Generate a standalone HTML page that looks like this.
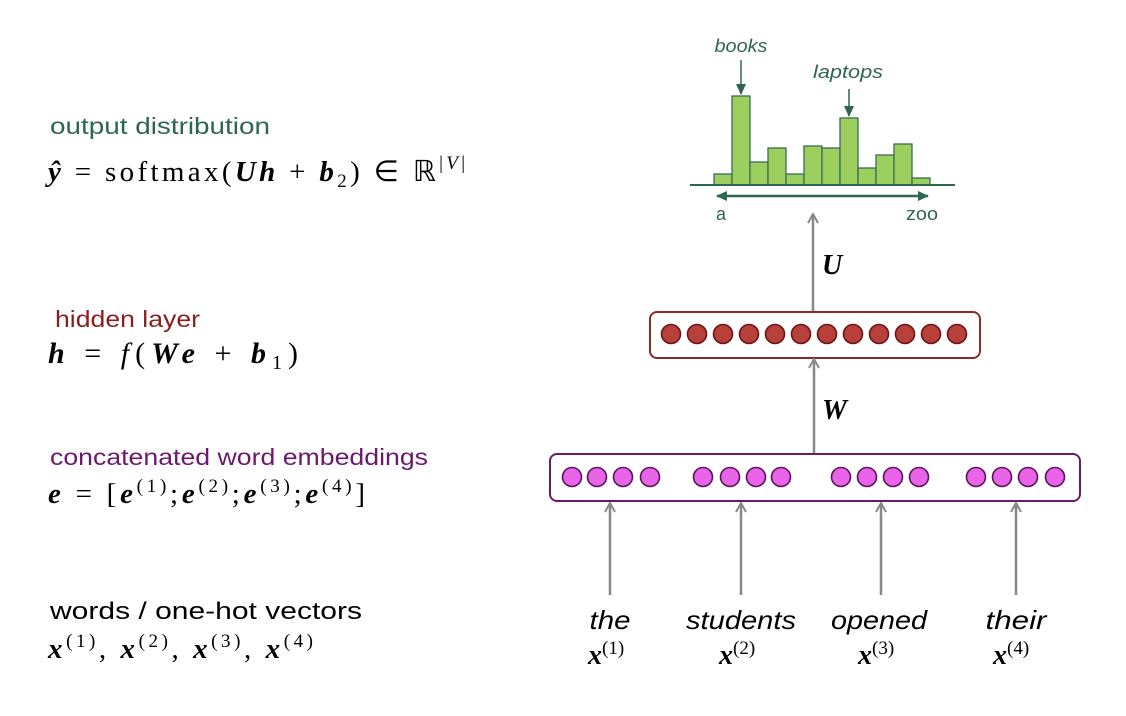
<!DOCTYPE html>
<html><head><meta charset="utf-8"><style>
html,body{margin:0;padding:0;background:#fff;}
svg{display:block;}
.s{font-family:"Liberation Sans",sans-serif;}
.m{font-family:"Liberation Serif",serif;}
</style></head><body>
<svg width="1126" height="716" viewBox="0 0 1126 716" xmlns="http://www.w3.org/2000/svg">
<defs>
<marker id="ag" markerWidth="12" markerHeight="12" refX="11" refY="6" orient="auto" markerUnits="userSpaceOnUse" viewBox="0 0 12 12">
<path d="M2,1 L11,6 L2,11" fill="none" stroke="#888" stroke-width="2"/></marker>
<marker id="gd" markerWidth="12" markerHeight="12" refX="10" refY="6" orient="auto-start-reverse" markerUnits="userSpaceOnUse" viewBox="0 0 12 12">
<path d="M0,1 L11,6 L0,11 Z" fill="#2f6652"/></marker>
</defs>

<!-- left labels -->
<text x="50" y="134" class="s" font-size="23" fill="#2f6652" textLength="220" lengthAdjust="spacingAndGlyphs">output distribution</text>
<text x="48" y="181" class="m" font-size="29" fill="#000" textLength="417" lengthAdjust="spacing"><tspan font-weight="bold" font-style="italic">ŷ</tspan> = softmax(<tspan font-weight="bold" font-style="italic">Uh</tspan> + <tspan font-weight="bold" font-style="italic">b</tspan><tspan font-size="19" dy="6">2</tspan><tspan dy="-6">) ∈ ℝ</tspan><tspan font-size="19" dy="-12">|</tspan><tspan font-size="19" font-style="italic">V</tspan><tspan font-size="19">|</tspan></text>

<text x="55" y="327" class="s" font-size="23" fill="#8b1f1f" textLength="145" lengthAdjust="spacingAndGlyphs">hidden layer</text>
<text x="48" y="363" class="m" font-size="30" fill="#000" textLength="250" lengthAdjust="spacing"><tspan font-weight="bold" font-style="italic">h</tspan> = <tspan font-style="italic">f</tspan>(<tspan font-weight="bold" font-style="italic">We</tspan> + <tspan font-weight="bold" font-style="italic">b</tspan><tspan font-size="20" dy="6">1</tspan><tspan dy="-6">)</tspan></text>

<text x="50" y="465" class="s" font-size="23" fill="#6b1a6b" textLength="378" lengthAdjust="spacingAndGlyphs">concatenated word embeddings</text>
<text x="48" y="503" class="m" font-size="29" fill="#000" textLength="317" lengthAdjust="spacing"><tspan font-weight="bold" font-style="italic">e</tspan> = [<tspan font-weight="bold" font-style="italic">e</tspan><tspan font-size="19" dy="-11">(1)</tspan><tspan dy="11">;</tspan><tspan font-weight="bold" font-style="italic">e</tspan><tspan font-size="19" dy="-11">(2)</tspan><tspan dy="11">;</tspan><tspan font-weight="bold" font-style="italic">e</tspan><tspan font-size="19" dy="-11">(3)</tspan><tspan dy="11">;</tspan><tspan font-weight="bold" font-style="italic">e</tspan><tspan font-size="19" dy="-11">(4)</tspan><tspan dy="11">]</tspan></text>

<text x="50" y="619" class="s" font-size="24" fill="#000" textLength="312" lengthAdjust="spacingAndGlyphs">words / one-hot vectors</text>
<text x="48" y="658" class="m" font-size="29" fill="#000" textLength="265" lengthAdjust="spacing"><tspan font-weight="bold" font-style="italic">x</tspan><tspan font-size="19" dy="-11">(1)</tspan><tspan dy="11">, </tspan><tspan font-weight="bold" font-style="italic">x</tspan><tspan font-size="19" dy="-11">(2)</tspan><tspan dy="11">, </tspan><tspan font-weight="bold" font-style="italic">x</tspan><tspan font-size="19" dy="-11">(3)</tspan><tspan dy="11">, </tspan><tspan font-weight="bold" font-style="italic">x</tspan><tspan font-size="19" dy="-11">(4)</tspan></text>

<!-- histogram -->
<g fill="#9dcf5f" stroke="#3a6b55" stroke-width="1.3">
<rect x="714" y="174" width="18" height="11"/>
<rect x="732" y="96" width="18" height="89"/>
<rect x="750" y="162" width="18" height="23"/>
<rect x="768" y="148" width="18" height="37"/>
<rect x="786" y="174" width="18" height="11"/>
<rect x="804" y="146" width="18" height="39"/>
<rect x="822" y="148" width="18" height="37"/>
<rect x="840" y="118" width="18" height="67"/>
<rect x="858" y="168" width="18" height="17"/>
<rect x="876" y="155" width="18" height="30"/>
<rect x="894" y="144" width="18" height="41"/>
<rect x="912" y="178" width="18" height="7"/>
</g>
<line x1="690" y1="185" x2="955" y2="185" stroke="#2f6652" stroke-width="2"/>
<line x1="717" y1="196" x2="928" y2="196" stroke="#2f6652" stroke-width="2.5" marker-start="url(#gd)" marker-end="url(#gd)"/>
<text x="721" y="220" class="s" font-size="18" fill="#2f6652" text-anchor="middle">a</text>
<text x="922" y="220" class="s" font-size="18" fill="#2f6652" text-anchor="middle" textLength="32" lengthAdjust="spacingAndGlyphs">zoo</text>
<text x="741" y="52" class="s" font-size="18" font-style="italic" fill="#2f6652" text-anchor="middle" textLength="53" lengthAdjust="spacingAndGlyphs">books</text>
<line x1="741" y1="60" x2="741" y2="94" stroke="#2f6652" stroke-width="1.5" marker-end="url(#gd)"/>
<text x="848" y="78" class="s" font-size="18" font-style="italic" fill="#2f6652" text-anchor="middle" textLength="70" lengthAdjust="spacingAndGlyphs">laptops</text>
<line x1="849" y1="89" x2="849" y2="116" stroke="#2f6652" stroke-width="1.5" marker-end="url(#gd)"/>

<!-- U arrow -->
<line x1="813" y1="312" x2="813" y2="214" stroke="#888" stroke-width="2.5" marker-end="url(#ag)"/>
<text x="822" y="274" class="m" font-size="28" font-weight="bold" font-style="italic">U</text>

<!-- hidden box -->
<rect x="650" y="312" width="330" height="46" rx="7" fill="#fff" stroke="#8b2a2a" stroke-width="2"/>
<g fill="#b8403a" stroke="#6a1515" stroke-width="1.6">
<circle cx="671" cy="334" r="9.5"/><circle cx="697" cy="334" r="9.5"/><circle cx="723" cy="334" r="9.5"/><circle cx="749" cy="334" r="9.5"/><circle cx="775" cy="334" r="9.5"/><circle cx="801" cy="334" r="9.5"/><circle cx="827" cy="334" r="9.5"/><circle cx="853" cy="334" r="9.5"/><circle cx="879" cy="334" r="9.5"/><circle cx="905" cy="334" r="9.5"/><circle cx="931" cy="334" r="9.5"/><circle cx="957" cy="334" r="9.5"/>
</g>

<!-- W arrow -->
<line x1="814" y1="454" x2="814" y2="359" stroke="#888" stroke-width="2.5" marker-end="url(#ag)"/>
<text x="822" y="419" class="m" font-size="28" font-weight="bold" font-style="italic">W</text>

<!-- embedding box -->
<rect x="550" y="454" width="530" height="47" rx="7" fill="#fff" stroke="#6b1a6b" stroke-width="2"/>
<g fill="#e964e8" stroke="#5a1258" stroke-width="1.6">
<circle cx="572" cy="477" r="9.5"/><circle cx="597" cy="477" r="9.5"/><circle cx="623" cy="477" r="9.5"/><circle cx="650" cy="477" r="9.5"/>
<circle cx="703" cy="477" r="9.5"/><circle cx="730" cy="477" r="9.5"/><circle cx="756" cy="477" r="9.5"/><circle cx="781" cy="477" r="9.5"/>
<circle cx="841" cy="477" r="9.5"/><circle cx="867" cy="477" r="9.5"/><circle cx="893" cy="477" r="9.5"/><circle cx="919" cy="477" r="9.5"/>
<circle cx="976" cy="477" r="9.5"/><circle cx="1002" cy="477" r="9.5"/><circle cx="1028" cy="477" r="9.5"/><circle cx="1055" cy="477" r="9.5"/>
</g>

<!-- word arrows -->
<g stroke="#888" stroke-width="2.5">
<line x1="610" y1="595" x2="610" y2="503" marker-end="url(#ag)"/>
<line x1="741" y1="595" x2="741" y2="503" marker-end="url(#ag)"/>
<line x1="881" y1="595" x2="881" y2="503" marker-end="url(#ag)"/>
<line x1="1016" y1="595" x2="1016" y2="503" marker-end="url(#ag)"/>
</g>
<g class="s" font-size="26" font-style="italic" text-anchor="middle" fill="#000">
<text x="610" y="629" textLength="41" lengthAdjust="spacingAndGlyphs">the</text>
<text x="741" y="629" textLength="110" lengthAdjust="spacingAndGlyphs">students</text>
<text x="879" y="629" textLength="96" lengthAdjust="spacingAndGlyphs">opened</text>
<text x="1016" y="629" textLength="61" lengthAdjust="spacingAndGlyphs">their</text>
</g>
<g class="m" font-size="28" fill="#000">
<text x="588" y="664"><tspan font-weight="bold" font-style="italic">x</tspan><tspan font-size="19" dy="-10">(1)</tspan></text>
<text x="719" y="664"><tspan font-weight="bold" font-style="italic">x</tspan><tspan font-size="19" dy="-10">(2)</tspan></text>
<text x="858" y="664"><tspan font-weight="bold" font-style="italic">x</tspan><tspan font-size="19" dy="-10">(3)</tspan></text>
<text x="993" y="664"><tspan font-weight="bold" font-style="italic">x</tspan><tspan font-size="19" dy="-10">(4)</tspan></text>
</g>
</svg>
</body></html>
